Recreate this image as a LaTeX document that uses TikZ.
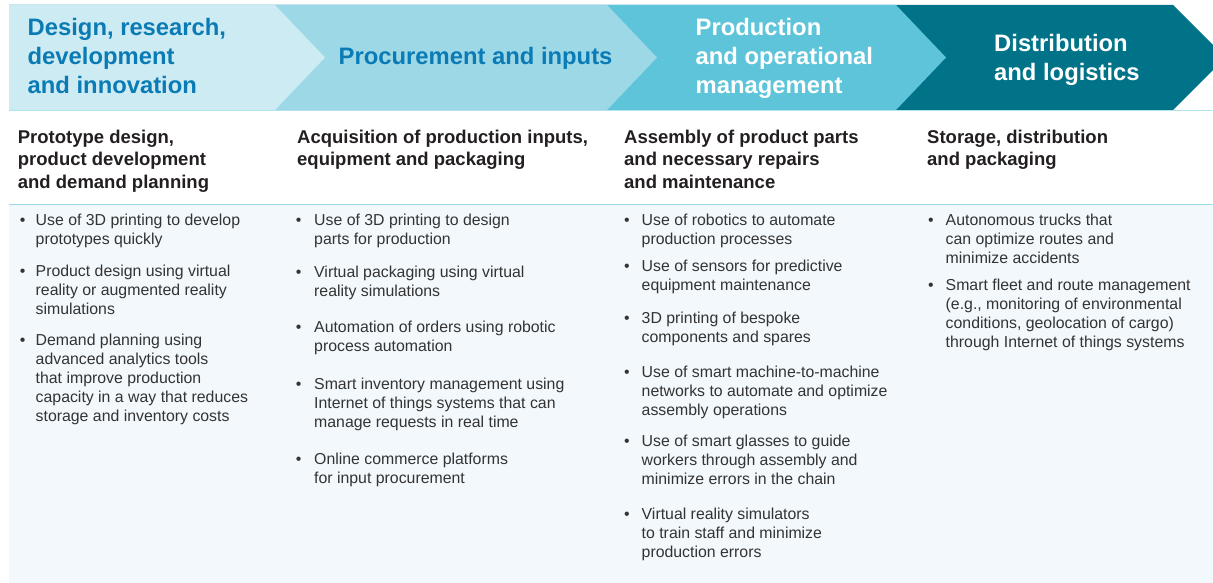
\documentclass[tikz,border=0pt]{standalone}
\usepackage{fontspec}
\setmainfont{Liberation Sans}
\definecolor{arA}{HTML}{CDEBF2}
\definecolor{arB}{HTML}{9DD8E6}
\definecolor{arC}{HTML}{5EC4D9}
\definecolor{arD}{HTML}{007389}
\definecolor{hblue}{HTML}{0A7BB5}
\definecolor{panel}{HTML}{F3F8FC}
\definecolor{sepline}{HTML}{9CDAE7}
\definecolor{bandline}{HTML}{B3E3ED}
\definecolor{bodytxt}{HTML}{333333}
\definecolor{subtxt}{HTML}{231F20}
\begin{document}
\begin{tikzpicture}[x=1pt,y=-1pt,
  head/.style={anchor=base west, inner sep=0pt, align=left, font=\fontsize{23.8}{29}\selectfont\bfseries},
  sub/.style={anchor=base west, inner sep=0pt, align=left, text=subtxt, font=\fontsize{18.5}{22.5}\selectfont\bfseries},
  btxt/.style={anchor=base west, inner sep=0pt, align=left, text=bodytxt, font=\fontsize{15.85}{19}\selectfont},
  bdot/.style={anchor=base west, inner sep=0pt, text=bodytxt, font=\fontsize{15.85}{19}\selectfont}]
\useasboundingbox (0,0) rectangle (1213,583);
\begin{scope}
\clip (0,0) rectangle (1213,583);
\fill[panel] (9,205) rectangle (1213,583);
\draw[sepline, line width=1.5pt] (9,204.5) -- (1213,204.5);
\fill[arD] (9,5) -- (1173,5) -- (1225.5,57.5) -- (1173,110) -- (9,110) -- cycle;
\fill[arC] (9,5) -- (896,5) -- (946,57.5) -- (896,110) -- (9,110) -- cycle;
\fill[arB] (9,5) -- (607,5) -- (657,57.5) -- (607,110) -- (9,110) -- cycle;
\fill[arA] (9,5) -- (275,5) -- (325,57.5) -- (275,110) -- (9,110) -- cycle;
\draw[bandline, line width=1.5pt] (9,110.5) -- (1213,110.5);
\end{scope}

% headers (anchor = baseline of last line)
\node[head, text=hblue] (h1) at (27.5,94) {Design, research,\\development\\and innovation};
\node[head, text=hblue] (h2) at (338.5,64.3) {Procurement and inputs};
\node[head, text=white] (h3) at (695.5,94) {Production\\and operational\\management};
\node[head, text=white] (h4) at (994,80.7) {Distribution\\and logistics};

% sub headers
\node[sub] (s1) at (17.7,188) {Prototype design,\\product development\\and demand planning};
\node[sub] (s2) at (297,165.5) {Acquisition of production inputs,\\equipment and packaging};
\node[sub] (s3) at (624,188) {Assembly of product parts\\and necessary repairs\\and maintenance};
\node[sub] (s4) at (927,165.5) {Storage, distribution\\and packaging};

% column 1
\node[bdot] (d11) at (19.6,225) {•};
\node[btxt] (t11) at (35.5,244) {Use of 3D printing to develop\\prototypes quickly};
\node[bdot] (d12) at (19.6,276) {•};
\node[btxt] (t12) at (35.5,314) {Product design using virtual\\reality or augmented reality\\simulations};
\node[bdot] (d13) at (19.6,345) {•};
\node[btxt] (t13) at (35.5,421) {Demand planning using\\advanced analytics tools\\that improve production\\capacity in a way that reduces\\storage and inventory costs};

% column 2
\node[bdot] (d21) at (295.6,225) {•};
\node[btxt] (t21) at (314,244) {Use of 3D printing to design\\parts for production};
\node[bdot] (d22) at (295.6,277) {•};
\node[btxt] (t22) at (314,296) {Virtual packaging using virtual\\reality simulations};
\node[bdot] (d23) at (295.6,332) {•};
\node[btxt] (t23) at (314,351) {Automation of orders using robotic\\process automation};
\node[bdot] (d24) at (295.6,389) {•};
\node[btxt] (t24) at (314,427) {Smart inventory management using\\Internet of things systems that can\\manage requests in real time};
\node[bdot] (d25) at (295.6,464) {•};
\node[btxt] (t25) at (314,483) {Online commerce platforms\\for input procurement};

% column 3
\node[bdot] (d31) at (624,225) {•};
\node[btxt] (t31) at (641.5,244) {Use of robotics to automate\\production processes};
\node[bdot] (d32) at (624,271) {•};
\node[btxt] (t32) at (641.5,290) {Use of sensors for predictive\\equipment maintenance};
\node[bdot] (d33) at (624,323) {•};
\node[btxt] (t33) at (641.5,342) {3D printing of bespoke\\components and spares};
\node[bdot] (d34) at (624,377) {•};
\node[btxt] (t34) at (641.5,415) {Use of smart machine-to-machine\\networks to automate and optimize\\assembly operations};
\node[bdot] (d35) at (624,446) {•};
\node[btxt] (t35) at (641.5,484) {Use of smart glasses to guide\\workers through assembly and\\minimize errors in the chain};
\node[bdot] (d36) at (624,519) {•};
\node[btxt] (t36) at (641.5,557) {Virtual reality simulators\\to train staff and minimize\\production errors};

% column 4
\node[bdot] (d41) at (928,225) {•};
\node[btxt] (t41) at (945.5,263) {Autonomous trucks that\\can optimize routes and\\minimize accidents};
\node[bdot] (d42) at (928,290) {•};
\node[btxt] (t42) at (945.5,347) {Smart fleet and route management\\(e.g., monitoring of environmental\\conditions, geolocation of cargo)\\through Internet of things systems};
\end{tikzpicture}
\end{document}
